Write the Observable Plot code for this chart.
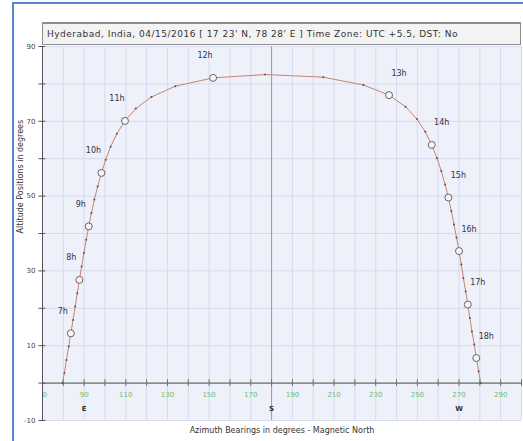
<!DOCTYPE html>
<html>
<head>
<meta charset="utf-8">
<script src="https://cdn.jsdelivr.net/npm/d3@7"></script>
<script src="https://cdn.jsdelivr.net/npm/@observablehq/plot@0.6"></script>
<style>
  body { margin: 0; background: #fff; }
  #wrap { position: relative; width: 523px; height: 441px; overflow: hidden; background: #fff; }
  #border { position: absolute; left: 12px; top: 2px; width: 530px; height: 460px; border: 2px solid #5686cc; box-sizing: border-box; }
  #chart { position: absolute; left: 0; top: 0; }
  #title { position: absolute; left: 42px; top: 22px; width: 479px; height: 23px; box-sizing: border-box;
           border: 1px solid #8c8c8c; border-top: 2px solid #8c8c8c; background: #f3f3f3;
           font: 9px "DejaVu Sans", sans-serif; letter-spacing: 0.5px; color: #333; line-height: 20px; padding-left: 4px; white-space: nowrap; }
</style>
</head>
<body>
<div id="wrap">
  <div id="border"></div>
  <div id="chart"></div>
  <div id="title">Hyderabad, India, 04/15/2016 [ 17 23' N, 78 28' E ] Time Zone: UTC +5.5, DST: No</div>
</div>
<script>
// Sun path, 15-minute steps from sunrise to sunset
const pathTime = ["6:03","6:15","6:30","6:45","7:00","7:15","7:30","7:45","8:00","8:15","8:30","8:45","9:00","9:15","9:30","9:45",
  "10:00","10:15","10:30","10:45","11:00","11:15","11:30","11:45","12:00","12:15","12:30","12:45","13:00","13:15","13:30","13:45",
  "14:00","14:15","14:30","14:45","15:00","15:15","15:30","15:45","16:00","16:15","16:30","16:45","17:00","17:15","17:30","17:45",
  "18:00","18:15","18:28"];
const pathAz = [79.6, 80.5, 81.5, 82.6, 83.6, 84.7, 85.7, 86.7, 87.7, 88.8, 89.9, 91.0, 92.2, 93.5, 94.9, 96.5,
  98.3, 100.3, 102.7, 105.7, 109.6, 114.8, 122.3, 133.8, 151.9, 176.9, 204.8, 224.1, 236.4, 244.3, 249.8, 253.8,
  256.9, 259.4, 261.5, 263.3, 264.9, 266.3, 267.6, 268.8, 270.0, 271.1, 272.1, 273.2, 274.2, 275.2, 276.2, 277.3,
  278.3, 279.4, 280.4];
const pathAlt = [0, 2.7, 6.2, 9.8, 13.3, 16.9, 20.5, 24.0, 27.6, 31.2, 34.8, 38.3, 41.9, 45.5, 49.1, 52.6,
  56.2, 59.7, 63.2, 66.7, 70.1, 73.4, 76.5, 79.4, 81.6, 82.5, 81.8, 79.7, 77.0, 73.9, 70.6, 67.2,
  63.7, 60.2, 56.7, 53.1, 49.6, 46.0, 42.4, 38.9, 35.3, 31.7, 28.1, 24.5, 21.0, 17.4, 13.8, 10.3,
  6.7, 3.2, 0];

// hour markers
const hourTimes = ["7:00","8:00","9:00","10:00","11:00","12:00","13:00","14:00","15:00","16:00","17:00","18:00"];
const hourLabels = ["7h","8h","9h","10h","11h","12h","13h","14h","15h","16h","17h","18h"];

// axes
const xTickLabels = [70, 90, 110, 130, 150, 170, 190, 210, 230, 250, 270, 290];
const xTicks = [70, 80, 90, 100, 110, 120, 130, 140, 150, 160, 170, 180, 190, 200, 210, 220, 230, 240, 250, 260, 270, 280, 290, 300];
const yTicks = [-10, 0, 10, 20, 30, 40, 50, 60, 70, 80, 90];
const yTickLabels = [90, 70, 50, 30, 10, -10];
const compassLabels = ["E", "S", "W"];
const compassAz = [90, 180, 270];

const path = pathTime.map((t, i) => ({time: t, az: pathAz[i], alt: pathAlt[i]}));
const hours = hourTimes.map((t, i) => {
  const p = path.find(d => d.time === t);
  return {label: hourLabels[i], az: p.az, alt: p.alt, am: p.az < 180};
});
const compass = compassLabels.map((c, i) => ({c, az: compassAz[i]}));

const chart = Plot.plot({
  width: 523,
  height: 441,
  marginLeft: 42,
  marginRight: 2,
  marginTop: 46,
  marginBottom: 21,
  x: {domain: [70, 300], axis: null},
  y: {domain: [-10, 90], axis: null},
  style: {background: "transparent", fontFamily: "DejaVu Sans, sans-serif"},
  marks: [
    Plot.frame({fill: "#eef0fa", stroke: null}),
    Plot.ruleX(xTicks, {stroke: "#d6daee", strokeWidth: 1}),
    Plot.ruleY(yTicks, {stroke: "#d6daee", strokeWidth: 1}),
    Plot.ruleX([180], {stroke: "#9a9aa8", strokeWidth: 1}),
    Plot.ruleY([0], {stroke: "#5e7a62", strokeWidth: 1.2}),
    Plot.ruleX(xTicks, {y1: -0.9, y2: 0.9, stroke: "#5e7a62", strokeWidth: 1}),
    Plot.text(xTickLabels, {x: d => d, y: 0, dy: 12, text: d => String(d), fill: "#6cbf6c", fontSize: 7, clip: true}),
    Plot.text(compass, {x: "az", y: 0, dy: 26, text: "c", fill: "#333", fontSize: 7, fontWeight: "bold"}),
    Plot.ruleX([70], {stroke: "#555", strokeWidth: 1}),
    Plot.ruleY(yTicks, {x1: 68.3, x2: 71.6, stroke: "#555", strokeWidth: 1}),
    Plot.text(yTickLabels, {x: 70, y: d => d, dx: -7, text: d => String(d), textAnchor: "end", fill: "#444", fontSize: 7}),
    Plot.text(["Altitude Positions in degrees"], {frameAnchor: "left", dx: -22, rotate: -90, fill: "#333", fontSize: 8, textLength: 183}),
    Plot.text(["Azimuth Bearings in degrees - Magnetic North"], {frameAnchor: "bottom", dy: 12, fill: "#333", fontSize: 8}),
    Plot.line(path, {x: "az", y: "alt", stroke: "#c8846f", strokeWidth: 1}),
    Plot.dot(path, {x: "az", y: "alt", r: 1, fill: "#555", stroke: null}),
    Plot.dot(hours, {x: "az", y: "alt", r: 3.5, fill: "#f6f6f6", stroke: "#666", strokeWidth: 1}),
    Plot.text(hours, {filter: d => d.am, x: "az", y: "alt", text: "label", dx: -8, dy: -22, fill: "#334", fontSize: 8}),
    Plot.text(hours, {filter: d => !d.am, x: "az", y: "alt", text: "label", dx: 10, dy: -22, fill: "#334", fontSize: 8})
  ]
});
document.getElementById("chart").appendChild(chart);
</script>
</body>
</html>
